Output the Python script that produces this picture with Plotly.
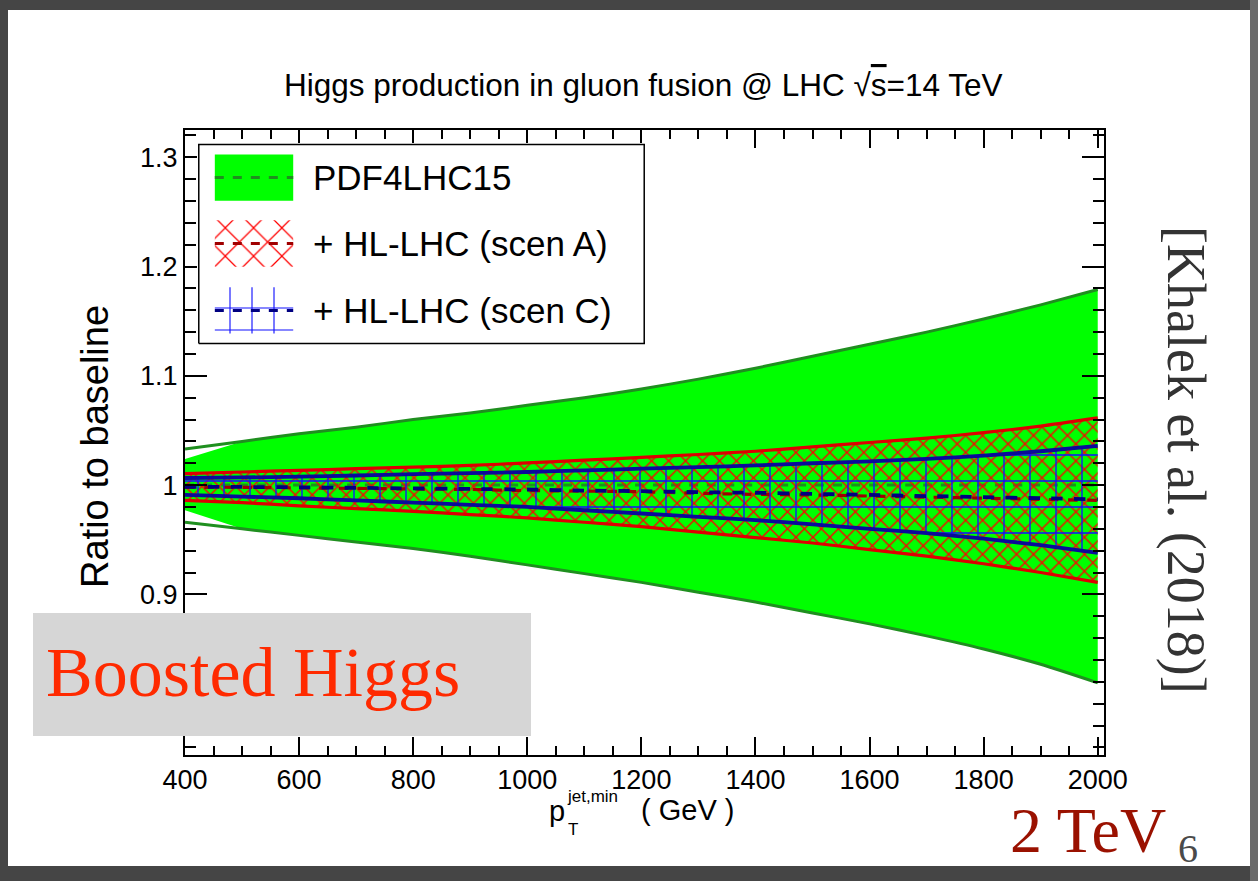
import plotly.graph_objects as go

# ---------------- data ----------------
pt = [400, 500, 600, 700, 800, 900, 1000, 1100, 1200, 1300, 1400, 1500, 1600, 1700, 1800, 1900, 2000]

pdf_up = [1.033, 1.040, 1.047, 1.053, 1.060, 1.066, 1.073, 1.080, 1.088, 1.097, 1.107, 1.118, 1.129, 1.140, 1.152, 1.165, 1.179]
pdf_lo = [0.966, 0.960, 0.954, 0.948, 0.942, 0.935, 0.927, 0.919, 0.911, 0.902, 0.893, 0.883, 0.873, 0.862, 0.850, 0.836, 0.819]
pdf_fill_up = [1.024, 1.040, 1.047, 1.053, 1.060, 1.066, 1.073, 1.080, 1.088, 1.097, 1.107, 1.118, 1.129, 1.140, 1.152, 1.165, 1.179]
pdf_fill_lo = [0.977, 0.960, 0.954, 0.948, 0.942, 0.935, 0.927, 0.919, 0.911, 0.902, 0.893, 0.883, 0.873, 0.862, 0.850, 0.836, 0.819]
pdf_c = [1.000, 1.000, 1.000, 1.000, 1.000, 1.000, 1.000, 1.000, 1.000, 1.000, 1.000, 1.000, 1.000, 1.000, 1.000, 1.000, 1.000]

A_up = [1.0105, 1.012, 1.0135, 1.015, 1.0165, 1.018, 1.0203, 1.0228, 1.0254, 1.028, 1.031, 1.035, 1.039, 1.043, 1.048, 1.054, 1.0615]
A_lo = [0.986, 0.984, 0.981, 0.9785, 0.976, 0.973, 0.970, 0.966, 0.962, 0.957, 0.952, 0.947, 0.941, 0.935, 0.928, 0.920, 0.911]
A_c = [0.998, 0.998, 0.9975, 0.997, 0.9965, 0.996, 0.995, 0.9945, 0.994, 0.9925, 0.9915, 0.991, 0.990, 0.989, 0.988, 0.987, 0.986]

C_up = [1.0065, 1.007, 1.0078, 1.0088, 1.010, 1.011, 1.012, 1.0135, 1.015, 1.0165, 1.018, 1.020, 1.0218, 1.024, 1.027, 1.031, 1.036]
C_lo = [0.991, 0.9895, 0.988, 0.986, 0.984, 0.982, 0.980, 0.977, 0.974, 0.971, 0.968, 0.964, 0.960, 0.956, 0.951, 0.945, 0.938]
C_c = [0.9985, 0.9983, 0.998, 0.9975, 0.997, 0.9965, 0.996, 0.995, 0.9945, 0.9935, 0.993, 0.992, 0.991, 0.990, 0.989, 0.988, 0.987]

legend_labels = ["PDF4LHC15", "+ HL-LHC (scen A)", "+ HL-LHC (scen C)"]
x_ticks = [400, 600, 800, 1000, 1200, 1400, 1600, 1800, 2000]
y_ticks = [0.9, 1.0, 1.1, 1.2, 1.3]
y_ticktext = ["0.9", "1", "1.1", "1.2", "1.3"]

# ---------------- layout geometry ----------------
W, H = 1258, 881
L, R, T, B = 185, 1104, 130, 755   # plot frame in pixels


def px(xp):
    return (xp - L) / (R - L)


def py(yp):
    return (B - yp) / (B - T)


SANS = "Liberation Sans, Arial, Helvetica, sans-serif"
SERIF = "Liberation Serif, Times New Roman, serif"

GREEN = "#00ff00"
GREEN_LINE = "#1f8f1f"
RED = "#ff0000"
RED_LINE = "#dd0000"
RED_DASH = "#a00000"
BLUE = "#1010ff"
BLUE_LINE = "#0a0a9a"
BLUE_DASH = "#000080"

SM = 0.6

fig = go.Figure()


def band(up, lo):
    return pt + pt[::-1], up + lo[::-1]


def line(y, color, width, dash="solid"):
    return go.Scatter(x=pt, y=y, mode="lines", showlegend=False, hoverinfo="skip",
                      line=dict(color=color, width=width, dash=dash, shape="spline", smoothing=SM))


# PDF4LHC15 green band
bx, by = band(pdf_fill_up, pdf_fill_lo)
fig.add_trace(go.Scatter(x=bx, y=by, fill="toself", fillcolor=GREEN, line=dict(width=0),
                         mode="lines", hoverinfo="skip", showlegend=False))
fig.add_trace(line(pdf_up, GREEN_LINE, 3))
fig.add_trace(line(pdf_lo, GREEN_LINE, 3))
fig.add_trace(line(pdf_c, GREEN_LINE, 3, "dash"))

# scenario A red hatched band
bx, by = band(A_up, A_lo)
fig.add_trace(go.Scatter(x=bx, y=by, fill="toself", fillcolor="rgba(0,0,0,0)", line=dict(width=0),
                         fillpattern=dict(shape="x", size=12, solidity=0.22, fgcolor=RED,
                                          bgcolor="rgba(0,0,0,0)", fillmode="replace"),
                         mode="lines", hoverinfo="skip", showlegend=False))
fig.add_trace(line(A_up, RED_LINE, 3.2))
fig.add_trace(line(A_lo, RED_LINE, 3.2))
fig.add_trace(line(A_c, RED_DASH, 3.2, "dash"))

# scenario C blue hatched band
bx, by = band(C_up, C_lo)
fig.add_trace(go.Scatter(x=bx, y=by, fill="toself", fillcolor="rgba(0,0,0,0)", line=dict(width=0),
                         fillpattern=dict(shape="+", size=26, solidity=0.1, fgcolor=BLUE,
                                          bgcolor="rgba(0,0,0,0)", fillmode="replace"),
                         mode="lines", hoverinfo="skip", showlegend=False))
fig.add_trace(line(C_up, BLUE_LINE, 3.8))
fig.add_trace(line(C_lo, BLUE_LINE, 3.8))
fig.add_trace(line(C_c, BLUE_DASH, 3.8, "dash"))

# ---------------- custom legend (second subplot) ----------------
lg = dict(xaxis="x2", yaxis="y2", showlegend=False, hoverinfo="skip")
fig.add_trace(go.Scatter(x=[0, 1, 1, 0, 0], y=[0, 0, 1, 1, 0], fill="toself", fillcolor="white",
                         mode="lines", line=dict(color="black", width=1.5), **lg))
sw_x0, sw_x1 = 0.036, 0.212
rows = [(0.718, 0.950), (0.386, 0.619), (0.050, 0.282)]
# green
y0, y1 = rows[0]
fig.add_trace(go.Scatter(x=[sw_x0, sw_x1, sw_x1, sw_x0, sw_x0], y=[y0, y0, y1, y1, y0], fill="toself",
                         fillcolor=GREEN, mode="lines", line=dict(width=0), **lg))
fig.add_trace(go.Scatter(x=[sw_x0, sw_x1], y=[(y0 + y1) / 2] * 2, mode="lines",
                         line=dict(color=GREEN_LINE, width=3, dash="dash"), **lg))
# red
y0, y1 = rows[1]
fig.add_trace(go.Scatter(x=[sw_x0, sw_x1, sw_x1, sw_x0, sw_x0], y=[y0, y0, y1, y1, y0], fill="toself",
                         fillcolor="rgba(0,0,0,0)", mode="lines", line=dict(width=0),
                         fillpattern=dict(shape="x", size=20, solidity=0.12, fgcolor=RED,
                                          bgcolor="rgba(0,0,0,0)", fillmode="replace"), **lg))
fig.add_trace(go.Scatter(x=[sw_x0, sw_x1], y=[(y0 + y1) / 2] * 2, mode="lines",
                         line=dict(color=RED_DASH, width=3, dash="dash"), **lg))
# blue
y0, y1 = rows[2]
fig.add_trace(go.Scatter(x=[sw_x0, sw_x1, sw_x1, sw_x0, sw_x0], y=[y0, y0, y1, y1, y0], fill="toself",
                         fillcolor="rgba(0,0,0,0)", mode="lines", line=dict(width=0),
                         fillpattern=dict(shape="+", size=22, solidity=0.1, fgcolor=BLUE,
                                          bgcolor="rgba(0,0,0,0)", fillmode="replace"), **lg))
fig.add_trace(go.Scatter(x=[sw_x0, sw_x1], y=[(y0 + y1) / 2] * 2, mode="lines",
                         line=dict(color=BLUE_DASH, width=3, dash="dash"), **lg))

annotations = []
for (y0, y1), lab in zip(rows, legend_labels):
    annotations.append(dict(xref="x2", yref="y2", x=0.252, y=(y0 + y1) / 2, text=lab, showarrow=False,
                            xanchor="left", yanchor="middle", font=dict(family=SANS, size=35, color="black")))

# title
annotations.append(dict(xref="paper", yref="paper", x=px(643), y=py(85),
                        text="Higgs production in gluon fusion @ LHC √<span style='text-decoration:overline'>s</span>=14 TeV",
                        showarrow=False, xanchor="center", yanchor="middle",
                        font=dict(family=SANS, size=31.5, color="black")))
# y title
annotations.append(dict(xref="paper", yref="paper", x=px(95), y=py(447), text="Ratio to baseline",
                        textangle=-90, showarrow=False, xanchor="center", yanchor="middle",
                        font=dict(family=SANS, size=38, color="black")))
# x title pieces
annotations += [
    dict(xref="paper", yref="paper", x=px(547), y=py(811), text="p", showarrow=False,
         xanchor="left", yanchor="middle", font=dict(family=SANS, size=29, color="black")),
    dict(xref="paper", yref="paper", x=px(565), y=py(796), text="jet,min", showarrow=False,
         xanchor="left", yanchor="middle", font=dict(family=SANS, size=17, color="black")),
    dict(xref="paper", yref="paper", x=px(566), y=py(829), text="T", showarrow=False,
         xanchor="left", yanchor="middle", font=dict(family=SANS, size=17, color="black")),
    dict(xref="paper", yref="paper", x=px(639), y=py(810), text="( GeV )", showarrow=False,
         xanchor="left", yanchor="middle", font=dict(family=SANS, size=29, color="black")),
]
# Boosted Higgs label
annotations.append(dict(xref="paper", yref="paper", x=px(44), y=py(672), text="Boosted Higgs",
                        showarrow=False, xanchor="left", yanchor="middle",
                        font=dict(family=SERIF, size=70, color="#ff2a00")))
# citation
annotations.append(dict(xref="paper", yref="paper", x=px(1186), y=py(460), text="[Khalek et al. (2018)]",
                        textangle=90, showarrow=False, xanchor="center", yanchor="middle",
                        font=dict(family=SERIF, size=54, color="#333333")))
# 2 TeV and slide number
annotations.append(dict(xref="paper", yref="paper", x=px(1008), y=py(830), text="2 TeV",
                        showarrow=False, xanchor="left", yanchor="middle",
                        font=dict(family=SERIF, size=64, color="#9a1100")))
annotations.append(dict(xref="paper", yref="paper", x=px(1176), y=py(848), text="6",
                        showarrow=False, xanchor="left", yanchor="middle",
                        font=dict(family=SERIF, size=40, color="#4a4a4a")))

shapes = [
    # grey box behind "Boosted Higgs"
    dict(type="rect", xref="paper", yref="paper", x0=px(33), x1=px(531), y0=py(736), y1=py(613),
         fillcolor="#d6d6d6", line=dict(width=0), layer="above"),
    # slide border
    dict(type="rect", xref="paper", yref="paper", x0=px(0), x1=px(W), y0=py(10), y1=py(0),
         fillcolor="#454545", line=dict(width=0), layer="above"),
    dict(type="rect", xref="paper", yref="paper", x0=px(0), x1=px(W), y0=py(H), y1=py(866),
         fillcolor="#454545", line=dict(width=0), layer="above"),
    dict(type="rect", xref="paper", yref="paper", x0=px(0), x1=px(8), y0=py(H), y1=py(0),
         fillcolor="#454545", line=dict(width=0), layer="above"),
    dict(type="rect", xref="paper", yref="paper", x0=px(1250), x1=px(W), y0=py(H), y1=py(0),
         fillcolor="#6a6a6a", line=dict(width=0), layer="above"),
]

fig.update_layout(
    width=W, height=H,
    margin=dict(l=L, r=W - R, t=T, b=H - B, pad=0),
    paper_bgcolor="white", plot_bgcolor="white",
    showlegend=False,
    xaxis=dict(range=[400, 2011], tickvals=x_ticks, ticks="inside", ticklen=18, tickwidth=1.5,
               tickcolor="black", showline=True, linecolor="black", linewidth=2, mirror="allticks",
               minor=dict(ticks="inside", ticklen=9, dtick=50, tick0=400, tickwidth=1.5, tickcolor="black"),
               showgrid=False, zeroline=False, tickfont=dict(family=SANS, size=27, color="black")),
    yaxis=dict(range=[0.753, 1.325], tickvals=y_ticks, ticktext=y_ticktext, ticks="inside", ticklen=22,
               tickwidth=1.5, tickcolor="black", showline=True, linecolor="black", linewidth=2,
               mirror="allticks",
               minor=dict(ticks="inside", ticklen=11, dtick=0.02, tick0=0.9, tickwidth=1.5, tickcolor="black"),
               showgrid=False, zeroline=False, tickfont=dict(family=SANS, size=27, color="black")),
    xaxis2=dict(domain=[px(197), px(646)], range=[-0.004, 1.004], anchor="y2", visible=False, fixedrange=True),
    yaxis2=dict(domain=[py(345), py(143)], range=[-0.008, 1.008], anchor="x2", visible=False, fixedrange=True),
    annotations=annotations,
    shapes=shapes,
)

fig.write_html("out.html")
